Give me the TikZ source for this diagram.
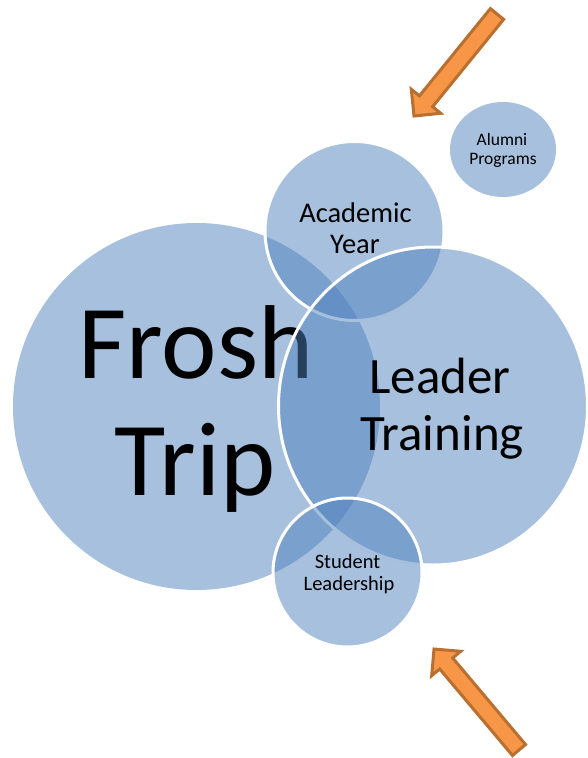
\documentclass[tikz,border=0pt]{standalone}
\usepackage{fontspec}
\setmainfont{Carlito}
\usetikzlibrary{shapes.geometric}
\definecolor{bubble}{HTML}{4F81BD}
\definecolor{arrowfill}{HTML}{F79646}
\definecolor{arrowedge}{HTML}{B96F30}
\begin{document}
\begin{tikzpicture}[x=1pt,y=-1pt,
  bubblebase/.style={ellipse, inner sep=0pt, outer sep=0pt, fill=bubble, fill opacity=0.5},
  ringed/.style={bubblebase, draw=white, draw opacity=1, line width=3pt},
  plain/.style={bubblebase},
  word/.style={anchor=base, inner sep=0pt, text=black},
  bigarrow/.style={fill=arrowfill, draw=arrowedge, line width=3pt, line join=miter}]
\useasboundingbox (0,0) rectangle (587,758);

% large left bubble
\node[plain, minimum width=367pt, minimum height=367pt] (frosh) at (196.5,406.5) {};
\node[word, font=\fontsize{105}{117}\selectfont] (froshA) at (196,378) {Frosh};
\node[word, font=\fontsize{105}{117}\selectfont] (froshB) at (195,495) {Trip};

% upper middle bubble
\node[ringed, minimum width=179pt, minimum height=179pt] (acad) at (354.5,231) {};
\node[word, font=\fontsize{28.5}{31}\selectfont] (acadA) at (355.5,222) {Academic};
\node[word, font=\fontsize{28.5}{31}\selectfont] (acadB) at (355,253) {Year};

% large right bubble
\node[ringed, minimum width=309pt, minimum height=318pt] (leader) at (433,406) {};
\node[word, font=\fontsize{51}{57}\selectfont] (leaderA) at (440,393) {Leader};
\node[word, font=\fontsize{51}{57}\selectfont] (leaderB) at (442,450) {Training};

% lower middle bubble
\node[ringed, minimum width=149pt, minimum height=149pt] (student) at (347.5,572.5) {};
\node[word, font=\fontsize{20.5}{22}\selectfont] (studentA) at (347.5,568) {Student};
\node[word, font=\fontsize{20.5}{22}\selectfont] (studentB) at (349,590) {Leadership};

% small upper right bubble
\node[plain, minimum width=106pt, minimum height=95pt] (alumni) at (503,149.5) {};
\node[word, font=\fontsize{17.5}{19.5}\selectfont] (alumniA) at (502,145) {Alumni};
\node[word, font=\fontsize{17.5}{19.5}\selectfont] (alumniB) at (503,164.5) {Programs};

% block arrows
\draw[bigarrow] (414,116) -- (440.7,113.3) -- (432.6,106.7) -- (503.6,19.4)
  -- (490.4,8.6) -- (419.4,95.9) -- (411.3,89.3) -- cycle;
\draw[bigarrow] (434,649) -- (460.7,651.3) -- (452.7,658.0) -- (525.5,744.5)
  -- (512.5,755.5) -- (439.7,669.0) -- (431.7,675.7) -- cycle;
\end{tikzpicture}
\end{document}
